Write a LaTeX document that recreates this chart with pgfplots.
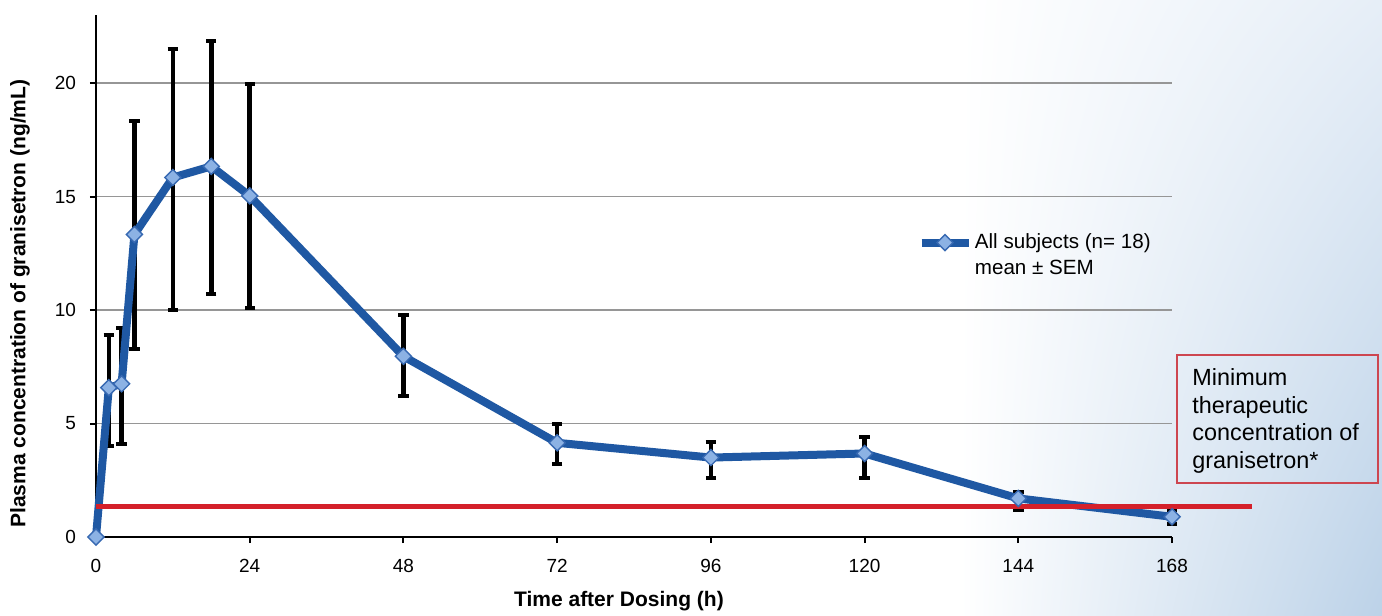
\documentclass[border=0pt]{standalone}
\usepackage{fontspec}
\setmainfont{Liberation Sans}
\usepackage{pgfplots}
\pgfplotsset{compat=1.18}
\usepackage{pgfplotstable}
\usetikzlibrary{shadings}

\definecolor{lineblue}{RGB}{31,88,163}
\definecolor{markfill}{RGB}{140,178,228}
\definecolor{markedge}{RGB}{55,105,178}
\definecolor{minred}{RGB}{212,32,42}
\definecolor{boxred}{RGB}{205,70,80}
\definecolor{gridgray}{RGB}{150,150,150}
\definecolor{bgblue}{RGB}{188,210,232}
\definecolor{bglight}{RGB}{230,238,247}

\pgfplotstableread{
t   c     ep    em
0   0.00  0.00  0.00
2   6.58  2.34  2.56
4   6.75  2.46  2.65
6   13.33 5.02  5.05
12  15.84 5.68  5.83
18  16.33 5.54  5.61
24  15.03 4.92  4.93
48  7.96  1.80  1.75
72  4.15  0.82  0.94
96  3.50  0.69  0.89
120 3.68  0.73  1.07
144 1.70  0.29  0.51
168 0.89  0.30  0.30
}\granisetron

\begin{document}
\begin{tikzpicture}[x=1bp,y=1bp]
\fill[white] (0,0) rectangle (691,307.5);
\shade[upper left=white, lower left=white, upper right=bglight, lower right=bgblue] (480,0) rectangle (691,307.5);
\begin{axis}[
  at={(48bp,39bp)}, anchor=south west,
  scale only axis, width=538bp, height=261bp,
  xmin=0, xmax=168, ymin=0, ymax=23,
  xtick={0,24,...,168}, ytick={0,5,...,20},
  axis lines*=left, axis line style={black, line width=1bp},
  tick align=outside, major tick length=3bp, tick style={black, line width=1bp},
  ymajorgrids, grid style={gridgray, line width=0.7bp},
  clip=false,
  tick label style={font=\fontsize{9.5bp}{11bp}\selectfont},
  /pgf/number format/assume math mode=true,
  yticklabel style={xshift=-3.5bp},
  xticklabel style={yshift=-4.5bp},
  xlabel={Time after Dosing (h)},
  ylabel={Plasma concentration of granisetron (ng/mL)},
  label style={font=\bfseries\fontsize{10.5bp}{12bp}\selectfont},
  xlabel style={at={([yshift=-32bp]rel axis cs:0.486,0)}, anchor=center},
  ylabel style={at={([xshift=-38bp]rel axis cs:0,0.447)}, anchor=center},
  legend style={at={(axis cs:128.2,13.49)}, anchor=north west, draw=none, fill=none,
    font=\fontsize{10.3bp}{12bp}\selectfont, inner sep=0pt, row sep=1.8bp,
    nodes={inner sep=1.2bp}},
  legend cell align=left,
  legend image code/.code={\draw[mark repeat=2,mark phase=2,#1] plot coordinates {(0bp,0bp) (11.75bp,0bp) (23.5bp,0bp)};},
]
\addplot[black, only marks, mark=none, forget plot,
  error bars/.cd, y dir=both, y explicit,
  error bar style={black, line width=2.3bp},
  error mark options={rotate=90, mark size=2.6bp, line width=2bp, black}]
  table[x=t, y=c, y error plus=ep, y error minus=em] {\granisetron};
\addplot[lineblue, line width=4bp, mark=square*, mark size=2.85bp,
  mark options={rotate=45, fill=markfill, draw=markedge, line width=0.7bp}]
  table[x=t, y=c] {\granisetron};
\addlegendentry{All subjects (n= 18)}
\addlegendimage{empty legend}
\addlegendentry{mean ± SEM}
\addplot[minred, line width=2.6bp, forget plot] coordinates {(0,1.33) (180.5,1.33)};
\end{axis}
\draw[boxred, line width=0.8bp] (588.5,66) rectangle (689,130);
\node[anchor=north west, align=left, font=\fontsize{11.7bp}{13.85bp}\selectfont, inner sep=0pt]
  at (596,123.5) {Minimum\\therapeutic\\concentration of\\granisetron*};
\pgfresetboundingbox
\path (0,0) rectangle (691,307.5);
\end{tikzpicture}
\end{document}
